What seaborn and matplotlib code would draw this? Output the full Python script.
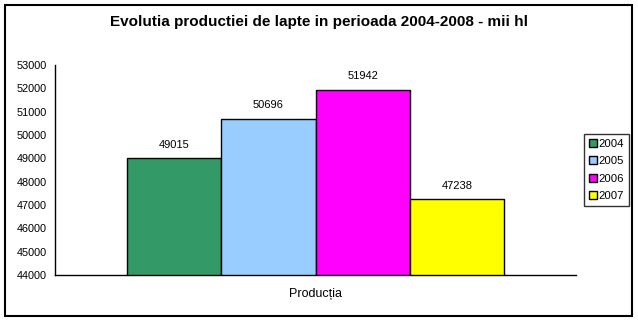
import matplotlib
matplotlib.use("Agg")
import matplotlib.pyplot as plt
from matplotlib.patches import Rectangle
import seaborn as sns
import pandas as pd

# Milk production by year (thousand hl)
years = ["2004", "2005", "2006", "2007"]
values = [49015, 50696, 51942, 47238]
colors = ["#339966", "#99CCFF", "#FF00FF", "#FFFF00"]
category = "Producția"
title = "Evolutia productiei de lapte in perioada 2004-2008 - mii hl"
y_ticks = list(range(44000, 53001, 1000))

df = pd.DataFrame({"cat": [category] * len(years), "an": years, "val": values})

sns.set_theme(style="white")
plt.rcParams["font.family"] = ["Liberation Sans", "DejaVu Sans"]
plt.rcParams["text.color"] = "black"
plt.rcParams["xtick.color"] = "black"
plt.rcParams["ytick.color"] = "black"
plt.rcParams["axes.labelcolor"] = "black"

fig = plt.figure(figsize=(6.38, 3.22), dpi=100)
ax = fig.add_axes([55 / 638, 1 - 275 / 322, 521 / 638, 210 / 322])

sns.barplot(data=df, x="cat", y="val", hue="an", palette=colors,
            width=0.7236, gap=0, edgecolor="black", linewidth=1.0,
            saturation=1, ax=ax, legend=True)

ax.set_ylim(y_ticks[0], y_ticks[-1])
ax.set_xlim(-0.5, 0.5)
ax.set_yticks(y_ticks)
ax.set_yticklabels([str(t) for t in y_ticks], fontsize=7.8)
ax.tick_params(axis="y", direction="out", length=4, width=1, colors="black", pad=2)
ax.tick_params(axis="x", length=0, labelsize=9, pad=9, colors="black")
ax.set_xlabel("")
ax.set_ylabel("")
for s in ["top", "right"]:
    ax.spines[s].set_visible(False)
for s in ["left", "bottom"]:
    ax.spines[s].set_color("black")
    ax.spines[s].set_linewidth(1.0)

# value labels above bars
for container in ax.containers:
    ax.bar_label(container, fmt="%d", padding=6, fontsize=8, color="black")

# legend box on the right
handles, labels = ax.get_legend_handles_labels()
leg = ax.legend(handles, labels, loc="center left",
                bbox_to_anchor=(584 / 638, 1 - 170 / 322),
                bbox_transform=fig.transFigure,
                frameon=True, fancybox=False, fontsize=8.2,
                handlelength=0.7, handleheight=0.7, handletextpad=0.2,
                labelspacing=0.65, borderpad=0.4, borderaxespad=0)
leg.get_frame().set_edgecolor("black")
leg.get_frame().set_linewidth(1.0)
for t in leg.get_texts():
    t.set_color("black")

fig.text(0.5, 1 - 22 / 322, title, ha="center", va="center",
         fontsize=11, fontweight="bold", color="black")

# chart area border
fig.patches.append(Rectangle((5 / 638, 1 - 316 / 322), 627 / 638, 311 / 322,
                             transform=fig.transFigure, fill=False,
                             edgecolor="black", linewidth=1.5))

fig.savefig("out.png", dpi=100)
